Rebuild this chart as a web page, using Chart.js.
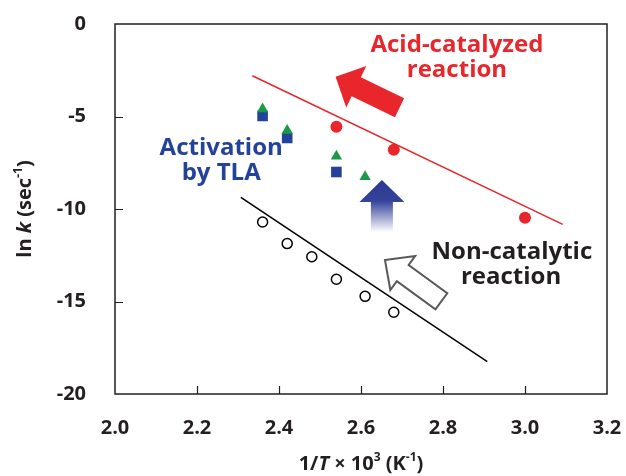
<!DOCTYPE html>
<html>
<head>
<meta charset="utf-8">
<script src="https://cdn.jsdelivr.net/npm/chart.js@4/dist/chart.umd.min.js"></script>
<style>
  html, body { margin: 0; padding: 0; background: #fff; }
  #wrap { width: 626px; height: 476px; }
</style>
</head>
<body>
<div id="wrap"><canvas id="chart" width="626" height="476"></canvas></div>
<script>
// values (x = 1/T x 10^3, y = ln k)
const acidX = [2.54, 2.68, 3.0];
const acidY = [-5.55, -6.8, -10.47];
const tlaTriX = [2.36, 2.42, 2.54, 2.61];
const tlaTriY = [-4.6, -5.75, -7.15, -8.25];
const tlaSqX = [2.36, 2.42, 2.54];
const tlaSqY = [-4.97, -6.16, -8.0];
const nonCatX = [2.36, 2.42, 2.48, 2.54, 2.61, 2.68];
const nonCatY = [-10.7, -11.87, -12.58, -13.8, -14.72, -15.58];
const acidFitX = [2.335, 3.092];
const acidFitY = [-2.8, -10.83];
const nonFitX = [2.307, 2.908];
const nonFitY = [-9.37, -18.25];
const xTicks = [2.0, 2.2, 2.4, 2.6, 2.8, 3.0, 3.2];
const yTicks = [0, -5, -10, -15, -20];

const RED = '#e8262b';
const GREEN = '#1a9a48';
const BLUE = '#23439b';
const DARK = '#231f20';
const FONT = '"Open Sans", "DejaVu Sans", sans-serif';

const pts = (xs, ys) => xs.map((x, i) => ({ x: x, y: ys[i] }));

// annotation text and arrows, placed in data units
const labels = [
  { text: 'Acid-catalyzed', x: 2.834, y: -1.15, color: RED },
  { text: 'reaction', x: 2.834, y: -2.5, color: RED },
  { text: 'Activation', x: 2.259, y: -6.7, color: BLUE },
  { text: 'by TLA', x: 2.259, y: -8.05, color: BLUE },
  { text: 'Non-catalytic', x: 2.968, y: -12.32, color: DARK },
  { text: 'reaction', x: 2.966, y: -13.68, color: DARK }
];

const arrows = [
  { tip: [2.538, -2.85], tail: [2.694, -4.53], shaft: 21, head: 46, headLen: 23, fill: RED },
  { tip: [2.651, -8.43], tail: [2.651, -11.25], shaft: 22, head: 45, headLen: 22, fill: 'gradient' },
  { tip: [2.6585, -12.76], tail: [2.796, -14.99], shaft: 20, head: 42, headLen: 22, fill: '#fff', stroke: '#595959' }
];

function arrowPath(ctx, tx, ty, bx, by, shaft, head, headLen) {
  const dx = tx - bx, dy = ty - by;
  const len = Math.hypot(dx, dy);
  const ux = dx / len, uy = dy / len;
  const nx = -uy, ny = ux;
  const hx = tx - ux * headLen, hy = ty - uy * headLen;
  const s = shaft / 2, h = head / 2;
  ctx.beginPath();
  ctx.moveTo(tx, ty);
  ctx.lineTo(hx + nx * h, hy + ny * h);
  ctx.lineTo(hx + nx * s, hy + ny * s);
  ctx.lineTo(bx + nx * s, by + ny * s);
  ctx.lineTo(bx - nx * s, by - ny * s);
  ctx.lineTo(hx - nx * s, hy - ny * s);
  ctx.lineTo(hx - nx * h, hy - ny * h);
  ctx.closePath();
}

// draws text made of plain / italic / superscript pieces, centred on (cx, cy)
function drawRich(ctx, parts, cx, cy, size) {
  const fontFor = p => (p.italic ? 'italic ' : '') + 'bold ' + (p.sup ? Math.round(size * 0.62) : size) + 'px ' + FONT;
  let total = 0;
  parts.forEach(p => { ctx.font = fontFor(p); total += ctx.measureText(p.t).width; });
  let x = cx - total / 2;
  ctx.textBaseline = 'middle';
  ctx.textAlign = 'left';
  parts.forEach(p => {
    ctx.font = fontFor(p);
    ctx.fillText(p.t, x, p.sup ? cy - size * 0.32 : cy);
    x += ctx.measureText(p.t).width;
  });
}

const extras = {
  id: 'extras',
  afterDraw(chart) {
    const { ctx, chartArea: a, scales: { x, y } } = chart;
    ctx.save();
    // frame and inward ticks
    ctx.strokeStyle = DARK;
    ctx.lineWidth = 1.5;
    ctx.strokeRect(a.left, a.top, a.right - a.left, a.bottom - a.top);
    ctx.beginPath();
    xTicks.slice(1, -1).forEach(v => {
      const px = Math.round(x.getPixelForValue(v)) + 0.5;
      ctx.moveTo(px, a.bottom);
      ctx.lineTo(px, a.bottom - 8);
    });
    yTicks.slice(1, -1).forEach(v => {
      const py = Math.round(y.getPixelForValue(v)) + 0.5;
      ctx.moveTo(a.left, py);
      ctx.lineTo(a.left + 8, py);
    });
    ctx.lineWidth = 1.2;
    ctx.stroke();

    // arrows
    arrows.forEach(ar => {
      const tx = x.getPixelForValue(ar.tip[0]), ty = y.getPixelForValue(ar.tip[1]);
      const bx = x.getPixelForValue(ar.tail[0]), by = y.getPixelForValue(ar.tail[1]);
      arrowPath(ctx, tx, ty, bx, by, ar.shaft, ar.head, ar.headLen);
      if (ar.fill === 'gradient') {
        const g = ctx.createLinearGradient(0, ty, 0, by);
        g.addColorStop(0, '#2b3990');
        g.addColorStop(0.4, '#34429a');
        g.addColorStop(1, '#ffffff');
        ctx.fillStyle = g;
      } else {
        ctx.fillStyle = ar.fill;
      }
      ctx.fill();
      if (ar.stroke) {
        ctx.strokeStyle = ar.stroke;
        ctx.lineWidth = 2;
        ctx.lineJoin = 'miter';
        ctx.stroke();
      }
    });

    // annotation labels
    ctx.font = 'bold 24px ' + FONT;
    ctx.textAlign = 'center';
    ctx.textBaseline = 'middle';
    labels.forEach(l => {
      ctx.fillStyle = l.color;
      ctx.fillText(l.text, x.getPixelForValue(l.x), y.getPixelForValue(l.y));
    });

    // axis titles
    ctx.fillStyle = DARK;
    drawRich(ctx, [
      { t: '1/' }, { t: 'T', italic: true }, { t: ' \u00d7 10' }, { t: '3', sup: true },
      { t: ' (K' }, { t: '-1', sup: true }, { t: ')' }
    ], (a.left + a.right) / 2, 464, 20);
    ctx.translate(25, (a.top + a.bottom) / 2);
    ctx.rotate(-Math.PI / 2);
    drawRich(ctx, [
      { t: 'ln ' }, { t: 'k', italic: true }, { t: ' (sec' }, { t: '-1', sup: true }, { t: ')' }
    ], 0, 0, 20);
    ctx.restore();
  }
};

new Chart(document.getElementById('chart'), {
  type: 'scatter',
  data: {
    datasets: [
      { label: 'Acid fit', data: pts(acidFitX, acidFitY), showLine: true, borderColor: RED, borderWidth: 1.5, pointRadius: 0 },
      { label: 'Non-catalytic fit', data: pts(nonFitX, nonFitY), showLine: true, borderColor: '#000', borderWidth: 1.5, pointRadius: 0 },
      { label: 'Acid-catalyzed', data: pts(acidX, acidY), pointStyle: 'circle', pointRadius: 6, backgroundColor: RED, borderColor: RED, borderWidth: 0 },
      { label: 'TLA (triangle)', data: pts(tlaTriX, tlaTriY), pointStyle: 'triangle', pointRadius: 6.5, backgroundColor: GREEN, borderColor: GREEN, borderWidth: 0 },
      { label: 'TLA (square)', data: pts(tlaSqX, tlaSqY), pointStyle: 'rect', pointRadius: 7.5, backgroundColor: BLUE, borderColor: BLUE, borderWidth: 0 },
      { label: 'Non-catalytic', data: pts(nonCatX, nonCatY), pointStyle: 'circle', pointRadius: 5, backgroundColor: '#fff', borderColor: '#000', borderWidth: 1.5 }
    ]
  },
  options: {
    responsive: false,
    animation: false,
    layout: { padding: { top: 24, right: 19, left: 0, bottom: 0 } },
    plugins: {
      legend: { display: false },
      tooltip: { enabled: false }
    },
    scales: {
      x: {
        type: 'linear',
        min: 2.0,
        max: 3.2,
        afterFit: s => { s.height = 82; s.paddingLeft = 0; s.paddingRight = 0; },
        afterBuildTicks: s => { s.ticks = xTicks.map(v => ({ value: v })); },
        ticks: {
          padding: 22,
          color: DARK,
          font: { family: FONT, size: 20, weight: 'bold' },
          callback: v => v.toFixed(1)
        },
        grid: { display: false, drawTicks: false },
        border: { display: false }
      },
      y: {
        type: 'linear',
        min: -20,
        max: 0,
        afterFit: s => { s.width = 115; s.paddingTop = 0; s.paddingBottom = 0; },
        afterBuildTicks: s => { s.ticks = yTicks.map(v => ({ value: v })); },
        ticks: {
          padding: 29,
          color: DARK,
          font: { family: FONT, size: 20, weight: 'bold' },
          callback: v => String(v)
        },
        grid: { display: false, drawTicks: false },
        border: { display: false }
      }
    }
  },
  plugins: [extras]
});
</script>
</body>
</html>
